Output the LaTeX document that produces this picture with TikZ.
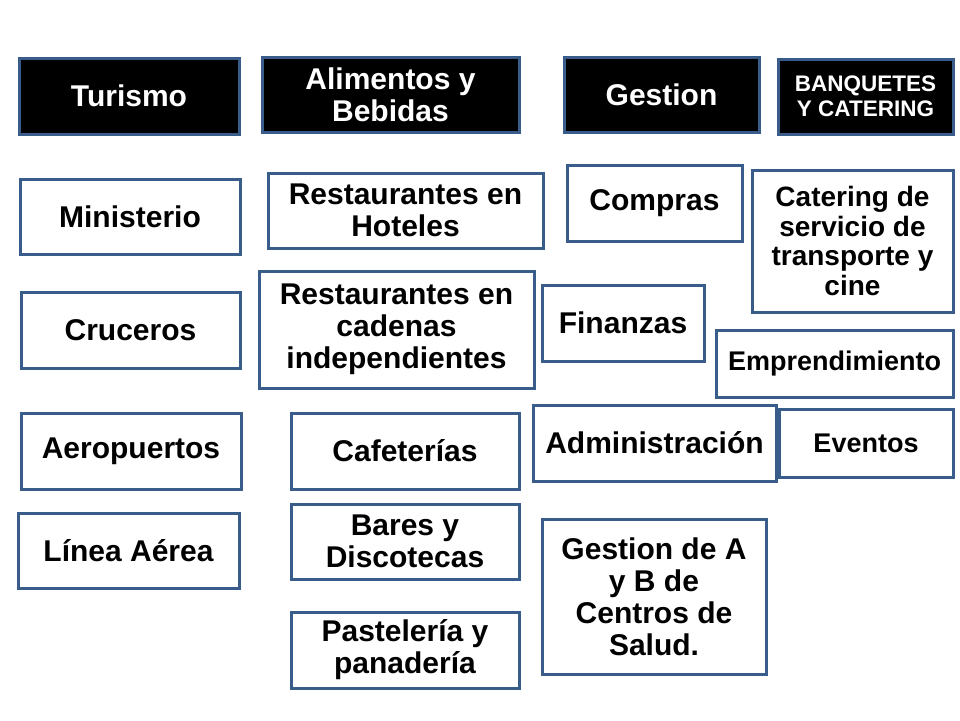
\documentclass[tikz,border=0pt]{standalone}
\usepackage{fontspec}
\setmainfont{Liberation Sans}
\usepackage{xcolor}
\definecolor{boxblue}{RGB}{56,93,138}

\begin{document}
\begin{tikzpicture}[x=1pt, y=-1pt]
    % Define styles
    \tikzstyle{head} = [rectangle, draw=boxblue, line width=3pt, fill=black, text=white, align=center, font=\fontsize{30}{32}\selectfont\bfseries]
    \tikzstyle{item} = [rectangle, draw=boxblue, line width=3pt, fill=white, text=black, align=center, font=\fontsize{30}{32}\selectfont\bfseries]
    \tikzstyle{small} = [font=\fontsize{27}{30}\selectfont\bfseries]

    \useasboundingbox (0,0) rectangle (960,720);

    % Headers
    \node [head, minimum width=220pt, minimum height=76pt] (turismo) at (129,96) {Turismo};
    \node [head, minimum width=257pt, minimum height=75pt] (alimentos) at (390.5,94.5) {Alimentos y\\Bebidas};
    \node [head, minimum width=195pt, minimum height=75pt] (gestion) at (661.5,94.5) {Gestion};
    \node [head, minimum width=175pt, minimum height=75pt, font=\fontsize{22.5}{25}\selectfont\bfseries] (banquetes) at (865.5,96.5) {BANQUETES\\Y CATERING};

    % Turismo column
    \node [item, minimum width=220pt, minimum height=75pt] (ministerio) at (130,216.5) {Ministerio};
    \node [item, minimum width=219pt, minimum height=76pt] (cruceros) at (130.5,330) {Cruceros};
    \node [item, minimum width=220pt, minimum height=76pt] (aeropuertos) at (131,451) {Aeropuertos};
    \node [item, minimum width=221pt, minimum height=75pt] (linea) at (128.5,550.5) {Línea Aérea};

    % Alimentos y Bebidas column
    \node [item, minimum width=275pt, minimum height=75pt] (hoteles) at (405.5,210.5) {Restaurantes en\\Hoteles};
    \node [item, minimum width=275pt, minimum height=117pt] (cadenas) at (396.5,329.5) {Restaurantes en\\cadenas\\independientes};
    \node [item, minimum width=228pt, minimum height=76pt] (cafeterias) at (405,451) {Cafeterías};
    \node [item, minimum width=228pt, minimum height=75pt] (bares) at (405,541.5) {Bares y\\Discotecas};
    \node [item, minimum width=228pt, minimum height=76pt] (pasteleria) at (405,650) {Pastelería y\\panadería};

    % Gestion column
    \node [item, minimum width=175pt, minimum height=76pt] (compras) at (654.5,203) {Compras};
    \node [item, minimum width=162pt, minimum height=76pt] (finanzas) at (623,323) {Finanzas};
    \node [item, minimum width=243pt, minimum height=76pt] (administracion) at (654.5,443) {Administración};
    \node [item, minimum width=224pt, minimum height=155pt] (salud) at (654,596.5) {Gestion de A\\y B de\\Centros de\\Salud.};

    % Banquetes column
    \node [item, minimum width=201pt, minimum height=142pt, font=\fontsize{28}{29.5}\selectfont\bfseries] (cine) at (852.5,241) {Catering de\\servicio de\\transporte y\\cine};
    \node [item, small, minimum width=237pt, minimum height=67pt] (emprendimiento) at (834.5,363.5) {Emprendimiento};
    \node [item, small, minimum width=174pt, minimum height=68pt] (eventos) at (866,443) {Eventos};
\end{tikzpicture}
\end{document}
